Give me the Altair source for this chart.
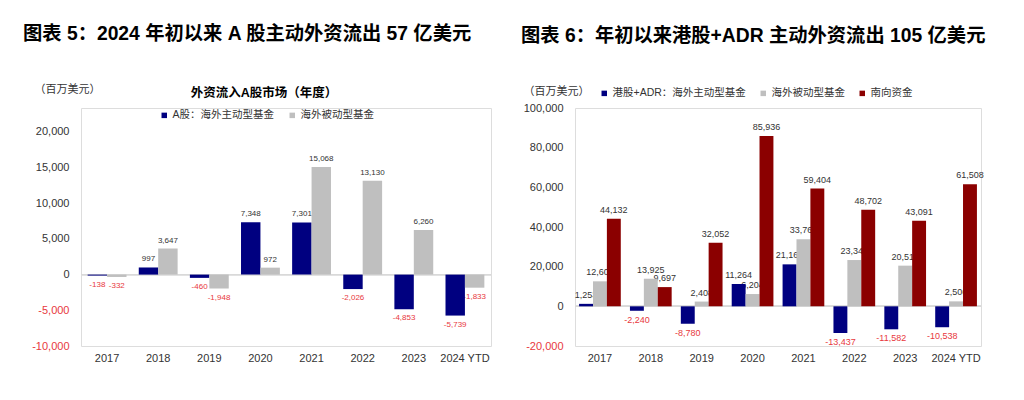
import altair as alt
import pandas as pd

# ---- data ----
years = ["2017", "2018", "2019", "2020", "2021", "2022", "2023", "2024 YTD"]

left_series = ["A股：海外主动型基金", "海外被动型基金"]
a_active = [-138, 997, -460, 7348, 7301, -2026, -4853, -5739]
a_passive = [-332, 3647, -1948, 972, 15068, 13130, 6260, -1833]

right_series = ["港股+ADR：海外主动型基金", "海外被动型基金", "南向资金"]
hk_active = [1253, -2240, -8780, 11264, 21165, -13437, -11582, -10538]
hk_passive = [12609, 13925, 2408, 6204, 33762, 23345, 20512, 2506]
southbound = [44132, 9697, 32052, 85936, 59404, 48702, 43091, 61508]

left_ticks = [-10000, -5000, 0, 5000, 10000, 15000, 20000]
right_ticks = [-20000, 0, 20000, 40000, 60000, 80000, 100000]

left_title = "图表 5：2024 年初以来 A 股主动外资流出 57 亿美元"
right_title = "图表 6：年初以来港股+ADR 主动外资流出 105 亿美元"
left_inner_title = "外资流入A股市场（年度）"
unit_label = "（百万美元）"

left_colors = ["#000080", "#BFBFBF"]
right_colors = ["#000080", "#BFBFBF", "#8B0000"]

FONT = "Liberation Sans, Noto Sans CJK SC"
NEG = "#E8383D"
TXT = "#333333"


def long_df(names, arrays, field):
    rows = []
    for name, arr in zip(names, arrays):
        for y, v in zip(years, arr):
            rows.append({"year": y, field: name, "v": v, "label": f"{v:,}"})
    return pd.DataFrame(rows)


left_df = long_df(left_series, [a_active, a_passive], "s1")
right_df = long_df(right_series, [hk_active, hk_passive, southbound], "s2")

label_expr = "replace(format(datum.value, ','), '\u2212', '-')"


def panel(df, field, series, colors, ticks, domain, width, pad_in, pad_out,
          title, title_dx, unit_x, unit_y, legend_x, legend_y, col_pad, lab_size):
    y_axis = alt.Axis(
        values=ticks, labelExpr=label_expr, grid=False, domain=False, ticks=False,
        labelOverlap=False, labelFont=FONT, labelFontSize=11, labelPadding=12,
        labelColor={"condition": {"test": "datum.value < 0", "value": NEG}, "value": TXT},
        title=unit_label, titleAngle=0, titleAlign="left", titleBaseline="middle",
        titleX=unit_x, titleY=unit_y, titleFont=FONT, titleFontSize=11,
        titleFontWeight="normal", titleColor=TXT,
    )
    y_scale = alt.Scale(domain=domain, nice=False, zero=False)
    x_axis = alt.Axis(title=None, labelAngle=0, domain=False, ticks=False,
                      labelOverlap=False, labelFont=FONT, labelFontSize=11,
                      labelColor=TXT, labelPadding=6)
    base = alt.Chart(df).encode(
        x=alt.X("year:N", sort=years, axis=x_axis,
                scale=alt.Scale(paddingInner=pad_in, paddingOuter=pad_out)),
        xOffset=alt.XOffset(f"{field}:N", scale=alt.Scale(domain=series)),
        y=alt.Y("v:Q", axis=y_axis, scale=y_scale),
    )
    bars = base.mark_bar().encode(
        color=alt.Color(
            f"{field}:N",
            scale=alt.Scale(domain=series, range=colors),
            legend=alt.Legend(
                title=None, orient="none", legendX=legend_x, legendY=legend_y,
                direction="horizontal", symbolType="square", symbolSize=30,
                symbolStrokeWidth=0, labelFont=FONT, labelFontSize=10.5,
                labelColor=TXT, columnPadding=col_pad, symbolOffset=0,
                labelOffset=3, padding=0,
            ),
        )
    )
    pos_txt = base.transform_filter("datum.v >= 0").mark_text(
        baseline="bottom", dy=-4, font=FONT, fontSize=lab_size, color=TXT
    ).encode(text="label:N")
    neg_txt = base.transform_filter("datum.v < 0").mark_text(
        baseline="top", dy=5, font=FONT, fontSize=lab_size, color=NEG
    ).encode(text="label:N")
    zero = alt.Chart(df).mark_rule(color="#D9D9D9", strokeWidth=1).encode(
        y=alt.Y(datum=0, axis=y_axis, scale=y_scale)
    )
    # draw order as in the reference: zero line, value labels, then bars on top
    return alt.layer(zero, pos_txt, neg_txt, bars).properties(
        width=width, height=238,
        title=alt.Title(title, anchor="start", frame="group", dx=title_dx,
                        fontSize=19.3, fontWeight="bold", color="#000000",
                        font=FONT, offset=39),
    )


left = panel(left_df, "s1", left_series, left_colors, left_ticks, [-10000, 23333],
             410, 0.24, 0.13, left_title, -58, -47, -19, 78, 2, 12, 8)

inner = alt.Chart(pd.DataFrame({"t": [left_inner_title]})).mark_text(
    font=FONT, fontSize=12.5, fontWeight="bold", color="#000000"
).encode(text="t:N", x=alt.value(183), y=alt.value(-15))
left = alt.layer(left, inner)

right = panel(right_df, "s2", right_series, right_colors, right_ticks, [-20000, 100000],
              406, 0.18, 0.08, right_title, -54, -52, -17, 24, -20, 12, 9)

chart = alt.hconcat(left, right, spacing=28).resolve_scale(
    x="independent", y="independent", color="independent", xOffset="independent"
).resolve_legend(color="independent").properties(
    padding={"left": 22, "top": 24, "right": 10, "bottom": 5}
).configure_view(strokeWidth=0).configure_axisY(labelOverlap=False).configure(
    background="white"
)

chart.save("out.html", embed_options={"renderer": "svg", "actions": False})
